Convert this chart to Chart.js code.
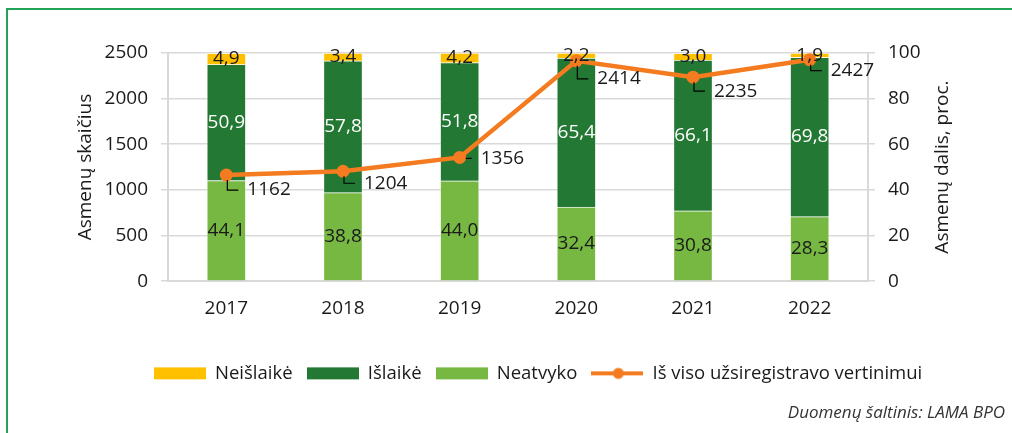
<!DOCTYPE html>
<html><head><meta charset="utf-8">
<script src="https://cdn.jsdelivr.net/npm/chart.js@4/dist/chart.umd.min.js"></script>
<style>
html,body{margin:0;padding:0;background:#fff;}
#wrap{position:relative;width:1012px;height:433px;overflow:hidden;background:#fff;}
#frame{position:absolute;left:6px;top:8px;width:1100px;height:500px;border-left:2px solid #22a456;border-top:2px solid #22a456;}
canvas{position:absolute;left:0;top:0;}
</style></head><body>
<div id="wrap"><div id="frame"></div><canvas id="c" width="1012" height="433"></canvas></div>
<script>
// ---- data ----
const years = ['2017','2018','2019','2020','2021','2022'];
const neatvyko = [44.1, 38.8, 44.0, 32.4, 30.8, 28.3];
const islaike = [50.9, 57.8, 51.8, 65.4, 66.1, 69.8];
const neislaike = [4.9, 3.4, 4.2, 2.2, 3.0, 1.9];
const registered = [1162, 1204, 1356, 2414, 2235, 2427];
const countTicks = [0, 500, 1000, 1500, 2000, 2500];
const shareTicks = [0, 20, 40, 60, 80, 100];

// ---- label placement (style) ----
const lineLabelDy = [15, 12, 1, 18, 14, 11];

const FONT = '"Open Sans", "Noto Sans", sans-serif';
const FS = 19;
const TXT = '#1a1a1a';
const GRID = '#d9d9d9';
const C_YELLOW = '#FFC000', C_DARK = '#237833', C_LIGHT = '#77B843', C_ORANGE = '#F47B20';
const rightTitle = 'Asmenų dalis, proc.';

Chart.defaults.font.family = FONT;
Chart.defaults.font.size = FS;
Chart.defaults.color = TXT;

function swatch(color, isLine) {
  const c = document.createElement('canvas');
  c.width = 52; c.height = 14;
  const g = c.getContext('2d');
  g.fillStyle = color; g.strokeStyle = color;
  if (isLine) {
    g.lineWidth = 4; g.beginPath(); g.moveTo(0, 7); g.lineTo(52, 7); g.stroke();
    g.beginPath(); g.arc(27, 7, 5.5, 0, Math.PI * 2); g.fill();
  } else {
    g.fillRect(0, 1, 52, 12);
  }
  return c;
}
const legendOrder = [2, 1, 0, 3];
const fmt = v => v.toFixed(1).replace('.', ',');

const labelPlugin = {
  id: 'valueLabels',
  afterDatasetsDraw(chart) {
    const ctx = chart.ctx;
    ctx.save();
    ctx.font = FS + 'px ' + FONT;
    chart.data.datasets.forEach((ds, i) => {
      const meta = chart.getDatasetMeta(i);
      if (ds.type === 'line') {
        ctx.textAlign = 'left'; ctx.textBaseline = 'middle'; ctx.fillStyle = TXT;
        ctx.strokeStyle = '#000'; ctx.lineWidth = 1.2;
        meta.data.forEach((el, j) => {
          const dy = lineLabelDy[j];
          ctx.beginPath();
          if (dy > 4) {
            ctx.moveTo(el.x + 1, el.y + 5);
            ctx.lineTo(el.x + 1, el.y + dy);
            ctx.lineTo(el.x + 12, el.y + dy);
          } else {
            ctx.moveTo(el.x + 6, el.y + dy);
            ctx.lineTo(el.x + 12, el.y + dy);
          }
          ctx.stroke();
          ctx.fillText(String(ds.data[j]), el.x + 21, el.y + dy);
        });
      } else {
        ctx.textAlign = 'center'; ctx.textBaseline = 'middle'; ctx.fillStyle = ds.labelColor;
        meta.data.forEach((el, j) => {
          ctx.fillText(fmt(ds.data[j]), el.x, (el.y + el.base) / 2);
        });
      }
    });
    ctx.restore();
  },
  afterDraw(chart) {
    const ctx = chart.ctx, a = chart.chartArea;
    ctx.save();
    ctx.font = FS + 'px ' + FONT;
    ctx.fillStyle = TXT; ctx.textAlign = 'center'; ctx.textBaseline = 'middle';
    ctx.translate(943, (a.top + a.bottom) / 2);
    ctx.rotate(-Math.PI / 2);
    ctx.fillText(rightTitle, 0, 0);
    ctx.restore();
  }
};

const barBorder = 'rgba(255,255,255,0.35)';
new Chart(document.getElementById('c'), {
  data: {
    labels: years,
    datasets: [
      { type: 'bar', label: 'Neatvyko', data: neatvyko, backgroundColor: C_LIGHT, borderColor: barBorder, borderWidth: 1, yAxisID: 'y1', labelColor: TXT, barThickness: 39 },
      { type: 'bar', label: 'Išlaikė', data: islaike, backgroundColor: C_DARK, borderColor: barBorder, borderWidth: 1, yAxisID: 'y1', labelColor: '#ffffff', barThickness: 39 },
      { type: 'bar', label: 'Neišlaikė', data: neislaike, backgroundColor: C_YELLOW, borderColor: barBorder, borderWidth: 1, yAxisID: 'y1', labelColor: TXT, barThickness: 39 },
      { type: 'line', label: 'Iš viso užsiregistravo vertinimui', data: registered, borderColor: C_ORANGE, backgroundColor: C_ORANGE, borderWidth: 4.5, pointRadius: 6.5, pointBorderWidth: 0, pointBackgroundColor: C_ORANGE, yAxisID: 'y', order: -1, tension: 0 }
    ]
  },
  options: {
    responsive: false,
    animation: false,
    devicePixelRatio: 1,
    layout: { padding: { left: 71, right: 7, top: 53, bottom: 0 } },
    plugins: {
      tooltip: { enabled: false },
      legend: {
        position: 'bottom',
        labels: {
          usePointStyle: true, pointStyleWidth: 52, boxHeight: 14, padding: 14,
          font: { size: 18.5 }, color: TXT,
          generateLabels(chart) {
            const items = Chart.defaults.plugins.legend.labels.generateLabels(chart);
            const sw = [swatch(C_LIGHT), swatch(C_DARK), swatch(C_YELLOW), swatch(C_ORANGE, true)];
            items.forEach(it => { it.pointStyle = sw[it.datasetIndex]; it.rotation = 0; });
            return items;
          },
          sort: (a, b) => legendOrder.indexOf(a.datasetIndex) - legendOrder.indexOf(b.datasetIndex)
        }
      },
      subtitle: {
        display: true, text: 'Duomenų šaltinis: LAMA BPO', position: 'bottom', align: 'end',
        font: { size: 17, style: 'italic' }, color: '#333', padding: { top: 10, bottom: 10 }
      }
    },
    scales: {
      x: {
        stacked: true,
        grid: { display: false },
        border: { display: true, color: GRID, width: 2 },
        ticks: { padding: 8, color: TXT, font: { size: FS } },
        afterFit(s) { s.height = 69; }
      },
      y: {
        position: 'left', min: 0, max: 2500,
        afterBuildTicks(s) { s.ticks = countTicks.map(v => ({ value: v })); },
        grid: { color: GRID, lineWidth: 1.5, tickLength: 7 },
        border: { display: true, color: GRID, width: 2 },
        ticks: { padding: 13, color: TXT, font: { size: FS }, callback: v => String(v) },
        title: { display: true, text: 'Asmenų skaičius', color: TXT, font: { size: FS }, padding: { top: 3, bottom: 0 } },
        afterFit(s) { s.width = 97; }
      },
      y1: {
        position: 'right', stacked: true, min: 0, max: 100,
        afterBuildTicks(s) { s.ticks = shareTicks.map(v => ({ value: v })); },
        grid: { drawOnChartArea: false, color: GRID, lineWidth: 1.5, tickLength: 7 },
        border: { display: true, color: GRID, width: 2 },
        ticks: { padding: 13, color: TXT, font: { size: FS }, callback: v => String(v) },
        title: { display: false },
        afterFit(s) { s.width = 137; }
      }
    }
  },
  plugins: [labelPlugin]
});
</script>
</body></html>
